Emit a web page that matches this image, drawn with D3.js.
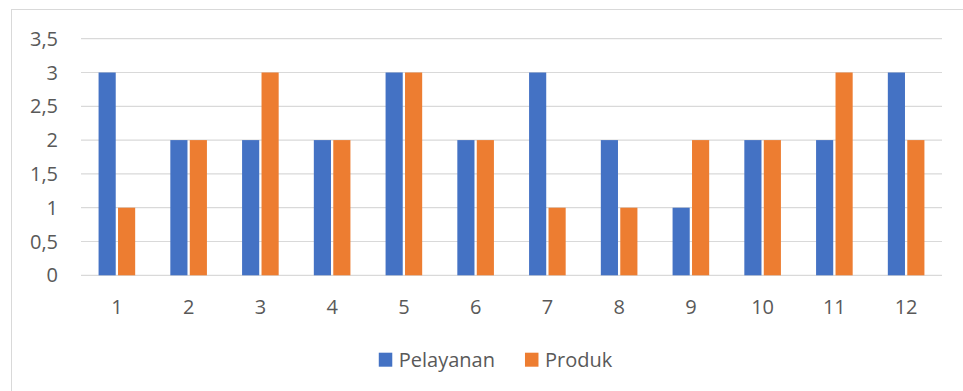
<!DOCTYPE html>
<html>
<head>
<meta charset="utf-8">
<script src="https://cdn.jsdelivr.net/npm/d3@7"></script>
<style>
  html, body { margin: 0; padding: 0; background: #fff; }
  svg { display: block; }
  text { font-family: "Open Sans", sans-serif; fill: #595959; }
</style>
</head>
<body>
<script>
const categories = ["1","2","3","4","5","6","7","8","9","10","11","12"];
const seriesNames = ["Pelayanan", "Produk"];
const pelayanan = [3,2,2,2,3,2,3,2,1,2,2,3];
const produk = [1,2,3,2,3,2,1,1,2,2,3,2];
const yTicks = [0,0.5,1,1.5,2,2.5,3,3.5];
const yTickLabels = ["0","0,5","1","1,5","2","2,5","3","3,5"];
const colors = ["#4472c4", "#ed7d31"];

const W = 963, H = 391;
const svg = d3.select("body").append("svg").attr("width", W).attr("height", H);

// chart frame
svg.append("rect").attr("x", 11.5).attr("y", 9.5).attr("width", 1200).attr("height", 1200)
  .attr("fill", "none").attr("stroke", "#d9d9d9").attr("stroke-width", 1);

const x = d3.scaleBand().domain(categories).range([81, 942]).padding(0);
const y = d3.scaleLinear().domain([0, 3.5]).range([275.3, 38.7]);

// gridlines
svg.append("g").selectAll("line").data(yTicks).join("line")
  .attr("x1", 81).attr("x2", 942)
  .attr("y1", d => y(d)).attr("y2", d => y(d))
  .attr("stroke", "#d9d9d9").attr("stroke-width", 1.2);

// y labels
svg.append("g").selectAll("text").data(yTicks).join("text")
  .attr("x", 58).attr("y", d => y(d) + 7)
  .attr("text-anchor", "end").attr("font-size", 20)
  .text((d, i) => yTickLabels[i]);

// bars
const inner = d3.scaleBand().domain(seriesNames).range([-18.3, 18.3]).paddingInner(0.118);
const values = [pelayanan, produk];
const rows = [];
categories.forEach((c, i) => {
  seriesNames.forEach((s, j) => rows.push({ c, s, v: values[j][i], j }));
});
svg.append("g").selectAll("rect").data(rows).join("rect")
  .attr("x", d => x(d.c) + x.bandwidth() / 2 + inner(d.s))
  .attr("width", inner.bandwidth())
  .attr("y", d => y(d.v))
  .attr("height", d => y(0) - y(d.v))
  .attr("fill", d => colors[d.j]);

// x labels
svg.append("g").selectAll("text").data(categories).join("text")
  .attr("x", d => x(d) + x.bandwidth() / 2).attr("y", 314)
  .attr("text-anchor", "middle").attr("font-size", 20)
  .text(d => d);

// legend
const leg = svg.append("g");
const items = seriesNames.map((s, i) => {
  const g = leg.append("g");
  g.append("rect").attr("width", 13.5).attr("height", 14).attr("y", 352.7).attr("fill", colors[i]);
  const t = g.append("text").attr("x", 20).attr("y", 366.7).attr("font-size", 20).text(s);
  return { g, w: 20 + t.node().getComputedTextLength() };
});
const gap = 30;
const total = items.reduce((a, b) => a + b.w, 0) + gap * (items.length - 1);
let cx = 495.5 - total / 2;
items.forEach(it => { it.g.attr("transform", `translate(${cx},0)`); cx += it.w + gap; });
</script>
</body>
</html>
